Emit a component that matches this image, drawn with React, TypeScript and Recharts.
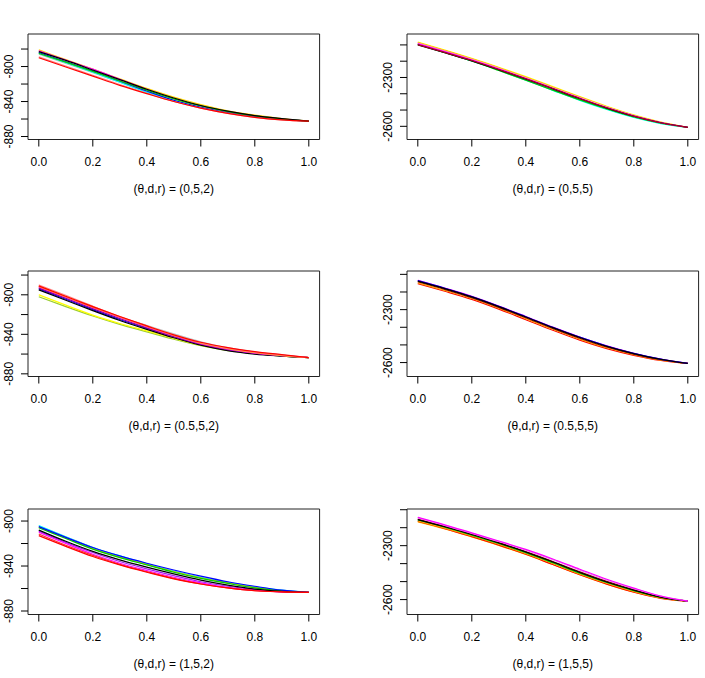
import React from "react";
import { LineChart, Line, XAxis, YAxis, ReferenceArea } from "recharts";

// Shared abscissa for every curve
const xGrid = [0, 0.1, 0.2, 0.3, 0.4, 0.5, 0.6, 0.7, 0.8, 0.9, 1.0];
const xTicks = [0, 0.2, 0.4, 0.6, 0.8, 1.0];
const xDomain: [number, number] = [-0.04, 1.04];

// Tick sets for the two value scales (r = 2 and r = 5)
const ticksR2 = [-880, -860, -840, -820, -800, -780];
const ticksR2Short = [-880, -860, -840, -820, -800];
const labelsR2 = [-880, -840, -800];
const ticksR5 = [-2600, -2500, -2400, -2300, -2200, -2100];
const labelsR5 = [-2600, -2300];

const titles = [
  "(θ,d,r) = (0,5,2)",
  "(θ,d,r) = (0,5,5)",
  "(θ,d,r) = (0.5,5,2)",
  "(θ,d,r) = (0.5,5,5)",
  "(θ,d,r) = (1,5,2)",
  "(θ,d,r) = (1,5,5)",
];

// theta = 0, r = 2
const curves052: number[][] = [
  [-786, -796.5, -807, -818, -829, -839, -846.5, -852.5, -857, -860.5, -862.5],
  [-785, -795.5, -806.5, -818, -829.5, -839.5, -847, -853, -857.5, -860.5, -862.5],
  [-784, -794.5, -805, -816.5, -828, -838.5, -846.5, -852.5, -857, -860, -862.5],
  [-789, -799.5, -810, -820.5, -830.5, -840, -847.5, -853.5, -858, -861, -862.5],
  [-781, -792, -803, -814, -825, -835, -843.5, -850.5, -855.5, -859.5, -862.5],
  [-782, -792.5, -803, -814.5, -826, -836.5, -845, -851.5, -856.5, -860, -862.5],
  [-785, -795, -805.5, -816.5, -827, -837, -845, -851.5, -856.5, -860, -862.5],
  [-783, -793, -804, -815, -826, -836, -844.5, -851, -856, -859.5, -862.5],
  [-790, -800.5, -811, -821.5, -831, -840, -847.5, -853.5, -858, -861, -862.5],
];
const colours052 = ["#BEBEBE", "#00FFFF", "#0000FF", "#FF8C8C", "#FFD700", "#FF00FF", "#00CD00", "#000000", "#FF0000"];

// theta = 0, r = 5
const curves055: number[][] = [
  [-2095, -2146, -2199, -2256, -2316, -2379, -2441, -2497, -2546, -2583, -2606],
  [-2097, -2147, -2199, -2257, -2317, -2378, -2438, -2493, -2542, -2580, -2606],
  [-2082, -2131, -2182, -2237, -2295, -2356, -2418, -2477, -2530, -2574, -2606],
  [-2086, -2135, -2186, -2241, -2299, -2360, -2421, -2480, -2532, -2575, -2606],
  [-2089, -2138, -2189, -2244, -2302, -2363, -2424, -2482, -2534, -2576, -2606],
  [-2092, -2141, -2192, -2247, -2305, -2366, -2427, -2485, -2536, -2577, -2606],
  [-2100, -2148, -2198, -2253, -2310, -2370, -2431, -2488, -2538, -2578, -2606],
  [-2098, -2146, -2196, -2251, -2308, -2368, -2429, -2486, -2537, -2578, -2606],
];
const colours055 = ["#00FFFF", "#00CD00", "#FFFF00", "#FFA500", "#FFB6C1", "#FF00FF", "#000000", "#B0002A"];

// theta = 0.5, r = 2
const curves0552: number[][] = [
  [-802, -812, -821.5, -830, -837.5, -845, -851.5, -856.5, -859.5, -862, -863.5],
  [-800, -810.5, -820.5, -829, -836.5, -844, -851, -856, -859.5, -862, -863.5],
  [-793, -803, -813, -822.5, -831, -839.5, -847.5, -853.5, -858, -861, -863.5],
  [-794, -804.5, -815, -825, -834, -842.5, -850.5, -856, -859.5, -862, -863.5],
  [-795, -805.5, -816, -826, -835, -843.5, -851, -856.5, -860, -862, -863.5],
  [-793, -803.5, -814, -824, -833.5, -842.5, -850, -855.5, -859, -861.5, -863.5],
  [-792, -802.5, -813, -823, -832.5, -841.5, -849.5, -855, -859, -861.5, -863.5],
  [-791.5, -802, -812.5, -822.5, -832, -841, -849, -854.5, -858.5, -861.5, -863.5],
  [-790, -800.5, -811.5, -822, -831.5, -840.5, -848.5, -854, -858, -861, -863.5],
  [-791, -801.5, -812, -822, -831.5, -840.5, -848, -853.5, -857.5, -860.5, -863.5],
];
const colours0552 = ["#9ACD32", "#FFFF00", "#BEBEBE", "#0000FF", "#000000", "#8B008B", "#FF00FF", "#FFA500", "#FF8C8C", "#FF0000"];

// theta = 0.5, r = 5
const curves0555: number[][] = [
  [-2153, -2196, -2242, -2297, -2357, -2417, -2473, -2521, -2559, -2588, -2605],
  [-2148, -2191, -2237, -2292, -2351, -2411, -2467, -2516, -2555, -2586, -2605],
  [-2142, -2185, -2232, -2287, -2346, -2406, -2462, -2512, -2552, -2584, -2605],
  [-2134, -2178, -2225, -2280, -2339, -2399, -2455, -2505, -2547, -2581, -2605],
  [-2136, -2179, -2226, -2281, -2340, -2400, -2456, -2506, -2548, -2581, -2605],
  [-2138, -2181, -2228, -2283, -2342, -2402, -2458, -2508, -2549, -2582, -2605],
];
const colours0555 = ["#FF0000", "#FFA500", "#8B0000", "#FF00FF", "#0000FF", "#000000"];

// theta = 1, r = 2
const curves152: number[][] = [
  [-804.5, -814, -823.5, -831.5, -838.5, -845, -850.5, -855, -859, -862, -863.5],
  [-804, -814, -823.5, -831, -838, -844.5, -850, -854.5, -858.5, -861.5, -863.5],
  [-805.5, -815, -824.5, -832, -838.5, -845, -850.5, -855, -859, -862, -863.5],
  [-806, -815.5, -825, -832.5, -839, -845.5, -851, -855.5, -859.5, -862, -863.5],
  [-805, -814.5, -823.5, -831, -837.5, -843.5, -849, -854, -858, -861.5, -863.5],
  [-809, -819, -828, -836, -842.5, -848.5, -854, -858, -861, -863, -863.5],
  [-810, -820, -829.5, -837.5, -844, -850, -855, -859, -861.5, -863, -863.5],
  [-808, -818, -827, -834.5, -841, -847, -852.5, -857, -860.5, -862.5, -863.5],
  [-811.5, -821.5, -830.5, -838.5, -845, -851, -856, -859.5, -862, -863, -863.5],
  [-813, -822.5, -831.5, -839, -845.5, -851.5, -856, -859.5, -862, -863, -863.5],
];
const colours152 = ["#BEBEBE", "#00FFFF", "#CDCD00", "#00CD00", "#0000FF", "#A020F0", "#FF00FF", "#000000", "#FF3030", "#FF0000"];

// theta = 1, r = 5
const curves155: number[][] = [
  [-2168, -2207, -2251, -2298, -2349, -2405, -2462, -2514, -2558, -2592, -2609],
  [-2165, -2205, -2250, -2297, -2348, -2405, -2462, -2514, -2559, -2593, -2609],
  [-2162, -2202, -2245, -2292, -2343, -2399, -2457, -2509, -2554, -2590, -2609],
  [-2157, -2197, -2241, -2288, -2339, -2395, -2453, -2505, -2550, -2588, -2609],
  [-2152, -2193, -2236, -2283, -2333, -2388, -2446, -2499, -2545, -2585, -2609],
  [-2155, -2195, -2238, -2285, -2335, -2391, -2449, -2502, -2547, -2586, -2609],
  [-2145, -2187, -2232, -2277, -2325, -2378, -2436, -2491, -2539, -2581, -2609],
  [-2142, -2184, -2229, -2274, -2321, -2374, -2431, -2487, -2536, -2580, -2609],
];
const colours155 = ["#FFD700", "#FF0000", "#FFA500", "#00CD00", "#8B0000", "#000000", "#EE82EE", "#FF00FF"];

// Value range of each plotting box
const domain052: [number, number] = [-883.4, -762.8];
const domain055: [number, number] = [-2681, -2033];
const domain0552: [number, number] = [-882.7, -775.9];
const domain0555: [number, number] = [-2679, -2081];
const domain152: [number, number] = [-883.1, -789.3];
const domain155: [number, number] = [-2683, -2096];

const FONT = "'Liberation Sans', Arial, Helvetica, sans-serif";
const FS = 12;
const TICK = 7;

type PanelProps = {
  curves: number[][];
  colours: string[];
  domain: [number, number];
  yTicks: number[];
  yLabels: number[];
  title: string;
  left: number;
  top: number;
  marginLeft: number;
  marginRight: number;
};

function Panel({ curves, colours, domain, yTicks, yLabels, title, left, top, marginLeft, marginRight }: PanelProps) {
  const rows = xGrid.map((x, i) => {
    const row: Record<string, number> = { x };
    curves.forEach((c, k) => {
      row["s" + k] = c[i];
    });
    return row;
  });

  const renderYTick = (props: any) => {
    const { x, y, payload } = props;
    if (!yLabels.includes(payload.value)) return <g />;
    const cx = x - 6;
    return (
      <text
        x={cx}
        y={y}
        transform={`rotate(-90, ${cx}, ${y})`}
        textAnchor="middle"
        fontSize={FS}
        fontFamily={FONT}
        fill="#000"
      >
        {payload.value}
      </text>
    );
  };

  return (
    <div style={{ position: "absolute", left, top }}>
      <LineChart
        width={352}
        height={200}
        data={rows}
        margin={{ top: 34, right: marginRight, bottom: 0.5, left: marginLeft }}
      >
        <XAxis
          dataKey="x"
          type="number"
          domain={xDomain}
          ticks={xTicks}
          allowDataOverflow
          axisLine={false}
          tickLine={{ stroke: "#000" }}
          tickSize={TICK}
          tickMargin={11}
          height={60}
          interval={0}
          tickFormatter={(v: number) => v.toFixed(1)}
          tick={{ fill: "#000", fontSize: FS, fontFamily: FONT }}
          label={{
            value: title,
            position: "insideBottom",
            offset: 7,
            fill: "#000",
            fontSize: FS,
            fontFamily: FONT,
          }}
        />
        <YAxis
          type="number"
          domain={domain}
          ticks={yTicks}
          allowDataOverflow
          axisLine={false}
          tickLine={{ stroke: "#000" }}
          tickSize={TICK}
          tickMargin={2}
          width={28}
          interval={0}
          tick={renderYTick}
        />
        {curves.map((_, k) => (
          <Line
            key={k}
            dataKey={"s" + k}
            type="monotone"
            stroke={colours[k]}
            strokeWidth={1.2}
            dot={false}
            activeDot={false}
            isAnimationActive={false}
          />
        ))}
        <ReferenceArea
          x1={xDomain[0]}
          x2={xDomain[1]}
          y1={domain[0]}
          y2={domain[1]}
          fill="none"
          fillOpacity={0}
          stroke="#222"
          strokeWidth={1}
          ifOverflow="visible"
        />
      </LineChart>
    </div>
  );
}

export default function App() {
  const leftCol = { left: 0, marginLeft: 0, marginRight: 32.4 };
  const rightCol = { left: 352, marginLeft: 27, marginRight: 5.4 };
  return (
    <div
      style={{
        position: "absolute",
        left: 0,
        top: 0,
        width: 705,
        height: 678,
        overflow: "hidden",
        background: "#fff",
        fontFamily: FONT,
      }}
    >
      <Panel curves={curves052} colours={colours052} domain={domain052} yTicks={ticksR2} yLabels={labelsR2} title={titles[0]} top={0} {...leftCol} />
      <Panel curves={curves055} colours={colours055} domain={domain055} yTicks={ticksR5} yLabels={labelsR5} title={titles[1]} top={0} {...rightCol} />
      <Panel curves={curves0552} colours={colours0552} domain={domain0552} yTicks={ticksR2} yLabels={labelsR2} title={titles[2]} top={237} {...leftCol} />
      <Panel curves={curves0555} colours={colours0555} domain={domain0555} yTicks={ticksR5} yLabels={labelsR5} title={titles[3]} top={237} {...rightCol} />
      <Panel curves={curves152} colours={colours152} domain={domain152} yTicks={ticksR2Short} yLabels={labelsR2} title={titles[4]} top={475} {...leftCol} />
      <Panel curves={curves155} colours={colours155} domain={domain155} yTicks={ticksR5} yLabels={labelsR5} title={titles[5]} top={475} {...rightCol} />
    </div>
  );
}
